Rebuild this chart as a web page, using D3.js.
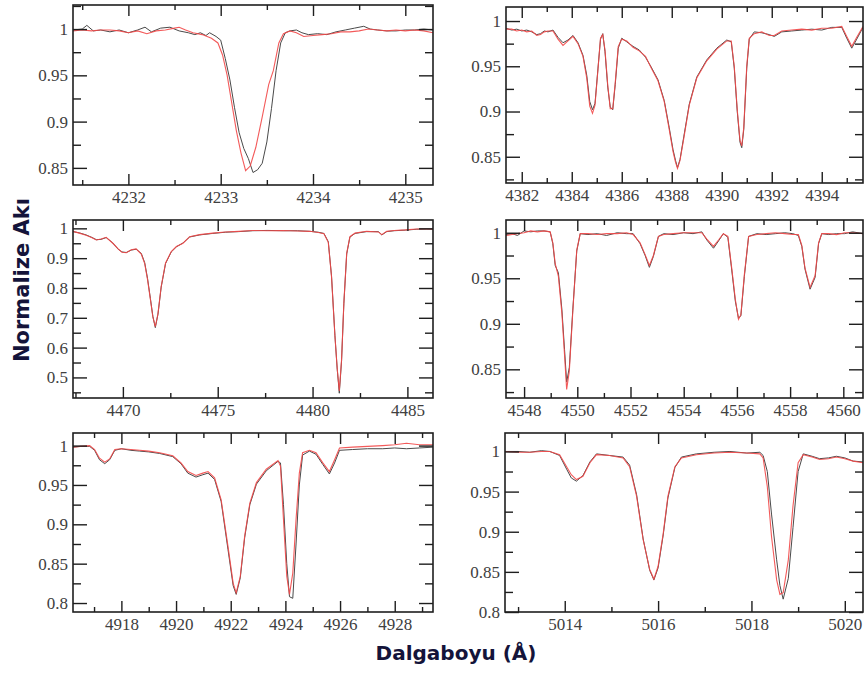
<!DOCTYPE html>
<html>
<head>
<meta charset="utf-8">
<script src="https://cdn.jsdelivr.net/npm/d3@7"></script>
<style>
  body { margin: 0; background: #fff; }
  svg { display: block; }
  .ax text { font-family: "Liberation Serif", "Times New Roman", Times, serif; }
</style>
</head>
<body>
<div id="chart"></div>
<script>
// spectra: wavelength (A) and normalised flux
// black = observed, red = model

// panel 1 : 4231-4235
var w1obs = [4231.40, 4231.50, 4231.55, 4231.62, 4231.70, 4231.80, 4231.90, 4232.00, 4232.10, 4232.18,
  4232.25, 4232.35, 4232.45, 4232.55, 4232.65, 4232.72, 4232.78, 4232.84, 4232.88, 4232.95,
  4233.00, 4233.05, 4233.10, 4233.15, 4233.20, 4233.25, 4233.30, 4233.35, 4233.40, 4233.45,
  4233.50, 4233.55, 4233.60, 4233.65, 4233.70, 4233.75, 4233.82, 4233.88, 4233.95, 4234.05,
  4234.15, 4234.25, 4234.35, 4234.45, 4234.55, 4234.62, 4234.70, 4234.80, 4234.90, 4235.00,
  4235.10, 4235.20, 4235.30];
var obs1 = [0.999, 1.000, 1.004, 0.998, 0.999, 0.997, 0.999, 0.996, 0.999, 1.002,
  0.997, 1.001, 1.002, 0.998, 0.996, 0.994, 0.996, 0.993, 0.996, 0.992,
  0.988, 0.968, 0.945, 0.915, 0.888, 0.871, 0.860, 0.845, 0.848, 0.855,
  0.878, 0.914, 0.955, 0.985, 0.996, 0.998, 0.999, 0.996, 0.994, 0.995,
  0.994, 0.997, 0.999, 1.001, 1.003, 1.000, 0.999, 0.998, 0.998, 0.999,
  0.999, 1.000, 0.999];
var w1fit = [4231.40, 4231.50, 4231.60, 4231.70, 4231.80, 4231.90, 4232.00, 4232.10, 4232.20, 4232.30,
  4232.40, 4232.50, 4232.55, 4232.62, 4232.70, 4232.80, 4232.90, 4232.97, 4233.02, 4233.07,
  4233.12, 4233.17, 4233.22, 4233.27, 4233.32, 4233.38, 4233.45, 4233.52, 4233.57, 4233.63,
  4233.68, 4233.75, 4233.82, 4233.90, 4234.00, 4234.10, 4234.20, 4234.30, 4234.40, 4234.50,
  4234.60, 4234.70, 4234.80, 4234.90, 4235.00, 4235.10, 4235.20, 4235.30];
var fit1 = [0.998, 0.999, 0.998, 0.999, 0.999, 0.998, 0.996, 0.998, 0.995, 0.998,
  0.999, 1.001, 1.002, 0.999, 0.996, 0.994, 0.990, 0.985, 0.972, 0.950,
  0.920, 0.890, 0.866, 0.847, 0.852, 0.872, 0.905, 0.940, 0.955, 0.985,
  0.995, 0.998, 0.996, 0.992, 0.993, 0.994, 0.995, 0.997, 0.997, 0.998,
  1.000, 0.999, 0.998, 0.999, 0.998, 0.999, 0.998, 0.996];

// panel 2 : 4382-4395
var w2 = [4381.37, 4381.6, 4381.8, 4382.0, 4382.2, 4382.4, 4382.6, 4382.75, 4382.9, 4383.05,
  4383.25, 4383.45, 4383.65, 4383.85, 4384.05, 4384.25, 4384.45, 4384.6, 4384.72, 4384.83,
  4384.93, 4385.05, 4385.15, 4385.24, 4385.33, 4385.44, 4385.54, 4385.64, 4385.74, 4385.86,
  4386.0, 4386.2, 4386.45, 4386.7, 4386.95, 4387.2, 4387.45, 4387.7, 4387.9, 4388.05,
  4388.15, 4388.23, 4388.33, 4388.48, 4388.7, 4389.0, 4389.4, 4389.8, 4390.2, 4390.38,
  4390.5, 4390.62, 4390.73, 4390.8, 4390.88, 4391.0, 4391.1, 4391.3, 4391.6, 4391.9,
  4392.1, 4392.4, 4392.8, 4393.2, 4393.6, 4394.0, 4394.4, 4394.8, 4395.0, 4395.2,
  4395.4, 4395.65];
var obs2 = [0.992, 0.990, 0.991, 0.989, 0.990, 0.988, 0.985, 0.986, 0.989, 0.988,
  0.990, 0.982, 0.976, 0.979, 0.984, 0.976, 0.962, 0.940, 0.911, 0.902,
  0.909, 0.948, 0.980, 0.986, 0.966, 0.927, 0.905, 0.902, 0.930, 0.970,
  0.981, 0.977, 0.972, 0.968, 0.960, 0.948, 0.935, 0.912, 0.882, 0.858,
  0.846, 0.838, 0.847, 0.872, 0.908, 0.938, 0.957, 0.970, 0.979, 0.977,
  0.948, 0.900, 0.866, 0.860, 0.880, 0.948, 0.980, 0.988, 0.987, 0.985,
  0.983, 0.988, 0.989, 0.990, 0.991, 0.990, 0.993, 0.993, 0.981, 0.970,
  0.980, 0.993];
var fit2 = [0.991, 0.991, 0.989, 0.990, 0.988, 0.989, 0.984, 0.985, 0.988, 0.989,
  0.989, 0.980, 0.973, 0.978, 0.983, 0.975, 0.961, 0.937, 0.906, 0.898,
  0.907, 0.947, 0.981, 0.985, 0.968, 0.929, 0.903, 0.903, 0.932, 0.972,
  0.980, 0.978, 0.971, 0.967, 0.961, 0.947, 0.934, 0.911, 0.880, 0.856,
  0.844, 0.837, 0.846, 0.870, 0.907, 0.937, 0.956, 0.969, 0.978, 0.978,
  0.950, 0.902, 0.868, 0.862, 0.882, 0.950, 0.981, 0.986, 0.988, 0.984,
  0.984, 0.989, 0.990, 0.991, 0.990, 0.992, 0.992, 0.994, 0.983, 0.972,
  0.982, 0.994];

// panel 3 : 4467-4486
var w3 = [4467.37, 4467.7, 4468.06, 4468.35, 4468.6, 4468.85, 4469.12, 4469.47, 4469.75, 4469.95,
  4470.18, 4470.44, 4470.7, 4470.97, 4471.15, 4471.3, 4471.45, 4471.58, 4471.71, 4471.85,
  4472.02, 4472.25, 4472.55, 4472.82, 4473.17, 4473.52, 4474.05, 4474.74, 4475.4, 4476.1,
  4476.85, 4477.6, 4478.45, 4479.2, 4479.86, 4480.3, 4480.6, 4480.83, 4481.0, 4481.18,
  4481.3, 4481.41, 4481.53, 4481.65, 4481.8, 4481.97, 4482.24, 4482.85, 4483.47, 4483.65,
  4483.91, 4484.3, 4484.9, 4485.5, 4486.0, 4486.35];
var obs3 = [0.989, 0.985, 0.978, 0.970, 0.962, 0.963, 0.969, 0.951, 0.930, 0.921,
  0.919, 0.927, 0.930, 0.916, 0.885, 0.832, 0.765, 0.705, 0.667, 0.712,
  0.803, 0.882, 0.921, 0.938, 0.951, 0.971, 0.978, 0.983, 0.987, 0.989,
  0.992, 0.993, 0.992, 0.992, 0.990, 0.987, 0.983, 0.955, 0.840, 0.640,
  0.528, 0.447, 0.556, 0.747, 0.914, 0.971, 0.983, 0.989, 0.989, 0.978,
  0.989, 0.992, 0.994, 0.997, 0.998, 0.997];
var fit3 = [0.990, 0.984, 0.977, 0.969, 0.961, 0.964, 0.970, 0.950, 0.931, 0.920,
  0.918, 0.928, 0.931, 0.914, 0.882, 0.828, 0.762, 0.703, 0.670, 0.714,
  0.805, 0.884, 0.922, 0.939, 0.950, 0.972, 0.979, 0.984, 0.988, 0.990,
  0.993, 0.992, 0.993, 0.991, 0.990, 0.986, 0.982, 0.953, 0.838, 0.638,
  0.530, 0.455, 0.560, 0.750, 0.916, 0.972, 0.984, 0.990, 0.988, 0.979,
  0.990, 0.993, 0.995, 0.998, 0.998, 0.998];

// panel 4 : 4548-4560
var w4 = [4547.32, 4547.55, 4547.75, 4548.0, 4548.25, 4548.5, 4548.75, 4548.98, 4549.08, 4549.17,
  4549.29, 4549.42, 4549.52, 4549.6, 4549.7, 4549.83, 4549.98, 4550.11, 4550.4, 4550.75,
  4551.1, 4551.5, 4551.85, 4552.1, 4552.36, 4552.55, 4552.71, 4552.86, 4553.05, 4553.25,
  4553.6, 4554.0, 4554.35, 4554.68, 4554.87, 4555.12, 4555.31, 4555.49, 4555.66, 4555.81,
  4555.94, 4556.06, 4556.15, 4556.28, 4556.44, 4556.75, 4557.1, 4557.45, 4557.8, 4558.1,
  4558.31, 4558.44, 4558.56, 4558.75, 4558.94, 4559.07, 4559.19, 4559.45, 4559.75, 4560.05,
  4560.35, 4560.74];
var obs4 = [0.998, 0.999, 0.997, 1.002, 1.001, 1.002, 1.002, 1.001, 0.988, 0.964,
  0.956, 0.916, 0.872, 0.836, 0.852, 0.915, 0.980, 0.999, 0.998, 0.999,
  0.997, 1.000, 0.999, 0.999, 0.988, 0.975, 0.962, 0.974, 0.996, 0.999,
  0.998, 1.000, 0.999, 1.001, 0.992, 0.983, 0.991, 0.999, 0.995, 0.958,
  0.925, 0.906, 0.909, 0.952, 0.996, 0.999, 0.998, 0.999, 1.000, 0.999,
  0.997, 0.985, 0.960, 0.938, 0.951, 0.988, 0.999, 0.998, 0.999, 0.999,
  1.001, 0.999];
var fit4 = [0.997, 0.998, 0.999, 1.000, 1.002, 1.001, 1.002, 1.001, 0.989, 0.966,
  0.952, 0.912, 0.866, 0.828, 0.848, 0.913, 0.981, 0.999, 0.999, 0.998,
  0.999, 0.999, 1.000, 0.998, 0.989, 0.976, 0.964, 0.975, 0.996, 0.998,
  0.999, 1.000, 1.000, 1.000, 0.993, 0.985, 0.992, 0.999, 0.996, 0.960,
  0.927, 0.905, 0.910, 0.954, 0.996, 0.998, 0.999, 1.000, 0.999, 0.998,
  0.998, 0.986, 0.961, 0.940, 0.953, 0.989, 0.999, 0.999, 0.998, 1.000,
  1.000, 0.999];

// panel 5 : 4916-4929
var w5 = [4916.23, 4916.5, 4916.84, 4917.02, 4917.2, 4917.39, 4917.57, 4917.76, 4918.0, 4918.35,
  4918.67, 4919.0, 4919.4, 4919.88, 4920.18, 4920.43, 4920.73, 4920.98, 4921.17, 4921.41,
  4921.65, 4921.9, 4922.09, 4922.2, 4922.35, 4922.51, 4922.7, 4922.94, 4923.3, 4923.73,
  4923.82, 4923.93, 4924.05, 4924.15, 4924.27, 4924.39, 4924.51, 4924.63, 4924.88, 4925.12,
  4925.37, 4925.61, 4925.8, 4925.98, 4926.46, 4927.0, 4927.56, 4928.0, 4928.43, 4928.9,
  4929.4];
var obs5 = [0.998, 0.999, 0.999, 0.994, 0.982, 0.977, 0.982, 0.994, 0.996, 0.994,
  0.993, 0.992, 0.990, 0.986, 0.977, 0.965, 0.960, 0.963, 0.965, 0.957,
  0.929, 0.868, 0.822, 0.811, 0.832, 0.883, 0.925, 0.951, 0.968, 0.980,
  0.978, 0.925, 0.850, 0.808, 0.806, 0.875, 0.950, 0.988, 0.993, 0.989,
  0.976, 0.964, 0.978, 0.994, 0.995, 0.996, 0.996, 0.997, 0.996, 0.997,
  0.998];
var fit5 = [0.998, 0.999, 1.000, 0.995, 0.984, 0.979, 0.983, 0.995, 0.996, 0.995,
  0.994, 0.993, 0.991, 0.987, 0.978, 0.967, 0.962, 0.965, 0.967, 0.959,
  0.931, 0.872, 0.825, 0.813, 0.834, 0.885, 0.927, 0.953, 0.970, 0.981,
  0.974, 0.906, 0.834, 0.811, 0.838, 0.906, 0.965, 0.991, 0.994, 0.991,
  0.978, 0.967, 0.982, 0.997, 0.998, 0.999, 1.000, 1.001, 1.003, 1.001,
  1.001];

// panel 6 : 5013-5020
var w6 = [5012.72, 5013.0, 5013.25, 5013.5, 5013.68, 5013.89, 5014.04, 5014.14, 5014.25, 5014.39,
  5014.54, 5014.68, 5014.96, 5015.25, 5015.39, 5015.54, 5015.68, 5015.82, 5015.91, 5016.0,
  5016.11, 5016.21, 5016.36, 5016.5, 5016.82, 5017.2, 5017.54, 5017.9, 5018.18, 5018.25,
  5018.34, 5018.43, 5018.54, 5018.61, 5018.68, 5018.79, 5018.89, 5019.0, 5019.11, 5019.3,
  5019.46, 5019.65, 5019.82, 5020.0, 5020.18, 5020.39];
var obs6 = [1.000, 1.000, 0.999, 1.001, 1.000, 0.995, 0.978, 0.967, 0.963, 0.970,
  0.987, 0.997, 0.995, 0.993, 0.983, 0.946, 0.891, 0.852, 0.840, 0.855,
  0.896, 0.942, 0.980, 0.993, 0.997, 0.999, 1.000, 0.998, 0.999, 0.995,
  0.975, 0.922, 0.865, 0.833, 0.816, 0.842, 0.905, 0.975, 0.997, 0.994,
  0.991, 0.992, 0.994, 0.992, 0.988, 0.987];
var fit6 = [1.000, 0.999, 0.999, 1.000, 1.000, 0.996, 0.981, 0.971, 0.965, 0.969,
  0.986, 0.996, 0.995, 0.992, 0.981, 0.944, 0.890, 0.853, 0.841, 0.857,
  0.898, 0.944, 0.981, 0.992, 0.996, 0.998, 0.999, 0.998, 0.997, 0.992,
  0.956, 0.894, 0.840, 0.822, 0.824, 0.865, 0.932, 0.986, 0.996, 0.993,
  0.990, 0.991, 0.993, 0.991, 0.988, 0.986];

// axis ranges and tick steps for each panel
var xDomains = [[4231.40, 4235.30], [4381.37, 4395.65], [4467.37, 4486.35],
                [4547.32, 4560.74], [4916.23, 4929.40], [5012.72, 5020.39]];
var yDomains = [[0.8315, 1.026], [0.821, 1.0155], [0.431, 1.028],
                [0.8185, 1.014], [0.7886, 1.016], [0.800, 1.023]];
var xMajor = [1, 2, 5, 2, 2, 2];
var xMinor = [0.5, 1, 2.5, 1, 1, 1];
var yMajor = [0.05, 0.05, 0.1, 0.05, 0.05, 0.05];
var yMinor = [0.025, 0.025, 0.05, 0.025, 0.025, 0.025];

var obsSeries = [[w1obs, obs1], [w2, obs2], [w3, obs3], [w4, obs4], [w5, obs5], [w6, obs6]];
var fitSeries = [[w1fit, fit1], [w2, fit2], [w3, fit3], [w4, fit4], [w5, fit5], [w6, fit6]];

// frame boxes in pixels
var frames = [
  {x: 73, y: 5, w: 360, h: 180},
  {x: 506, y: 7, w: 357, h: 176},
  {x: 73, y: 220, w: 360, h: 178},
  {x: 506, y: 220, w: 357, h: 178},
  {x: 73, y: 433, w: 360, h: 179},
  {x: 505, y: 433, w: 358, h: 179}
];

var width = 864, height = 673;
var serif = "'Liberation Serif', 'Times New Roman', Times, serif";
var svg = d3.select("#chart").append("svg").attr("width", width).attr("height", height);

function stepTicks(dom, step, skip) {
  var out = [];
  var start = Math.ceil(dom[0] / step - 1e-9);
  for (var k = start; k * step <= dom[1] + 1e-9; k++) {
    var v = +(k * step).toFixed(4);
    if (skip && Math.abs(v / skip - Math.round(v / skip)) < 1e-6) continue;
    out.push(v);
  }
  return out;
}

function fmtY(d) { return String(+d.toFixed(3)); }

function drawPanel(i) {
  var f = frames[i];
  var g = svg.append("g").attr("transform", "translate(" + f.x + "," + f.y + ")");
  var x = d3.scaleLinear().domain(xDomains[i]).range([0, f.w]);
  var y = d3.scaleLinear().domain(yDomains[i]).range([f.h, 0]);

  var xMaj = stepTicks(xDomains[i], xMajor[i]);
  var xMin = stepTicks(xDomains[i], xMinor[i], xMajor[i]);
  var yMaj = stepTicks(yDomains[i], yMajor[i]);
  var yMin = stepTicks(yDomains[i], yMinor[i], yMajor[i]);

  g.append("clipPath").attr("id", "clip" + i)
    .append("rect").attr("width", f.w).attr("height", f.h);

  var line = d3.line().x(function (d) { return x(d[0]); }).y(function (d) { return y(d[1]); });
  var obs = d3.zip(obsSeries[i][0], obsSeries[i][1]);
  var fit = d3.zip(fitSeries[i][0], fitSeries[i][1]);

  var plot = g.append("g").attr("clip-path", "url(#clip" + i + ")");
  plot.append("path").datum(obs).attr("d", line)
    .attr("fill", "none").attr("stroke", "#4a4a4a").attr("stroke-width", 1);
  plot.append("path").datum(fit).attr("d", line)
    .attr("fill", "none").attr("stroke", "#f24848").attr("stroke-width", 1.1).attr("stroke-opacity", 0.9);

  // ticks point inwards on all four sides, y ticks a bit longer than x ticks
  g.append("g").attr("class", "ax").attr("transform", "translate(0," + f.h + ")")
    .call(d3.axisBottom(x).tickValues(xMaj).tickSize(-11).tickPadding(6).tickFormat(d3.format("d")));
  g.append("g").attr("class", "ax").attr("transform", "translate(0," + f.h + ")")
    .call(d3.axisBottom(x).tickValues(xMin).tickSize(-5).tickFormat(""));
  g.append("g").attr("class", "ax")
    .call(d3.axisTop(x).tickValues(xMaj).tickSize(-11).tickFormat(""));
  g.append("g").attr("class", "ax")
    .call(d3.axisTop(x).tickValues(xMin).tickSize(-5).tickFormat(""));

  g.append("g").attr("class", "ax")
    .call(d3.axisLeft(y).tickValues(yMaj).tickSize(-14).tickPadding(5).tickFormat(fmtY));
  g.append("g").attr("class", "ax")
    .call(d3.axisLeft(y).tickValues(yMin).tickSize(-8).tickFormat(""));
  g.append("g").attr("class", "ax").attr("transform", "translate(" + f.w + ",0)")
    .call(d3.axisRight(y).tickValues(yMaj).tickSize(-14).tickFormat(""));
  g.append("g").attr("class", "ax").attr("transform", "translate(" + f.w + ",0)")
    .call(d3.axisRight(y).tickValues(yMin).tickSize(-8).tickFormat(""));

  g.append("rect").attr("width", f.w).attr("height", f.h)
    .attr("fill", "none").attr("stroke", "#1e1e1e").attr("stroke-width", 1.6);
}

for (var i = 0; i < 6; i++) drawPanel(i);

svg.selectAll(".ax .domain").remove();
svg.selectAll(".ax").attr("font-family", serif).attr("font-size", 17);
svg.selectAll(".ax line").attr("stroke", "#1e1e1e").attr("stroke-width", 1.4);
svg.selectAll(".ax text").attr("font-family", serif).attr("fill", "#404040");

// axis titles
svg.append("text").text("Normalize Akı")
  .attr("transform", "translate(29,280) rotate(-90)")
  .style("text-anchor", "middle")
  .style("font-family", "'DejaVu Sans', Verdana, sans-serif")
  .style("font-weight", "bold").style("font-size", "21px")
  .attr("fill", "#14143a");
svg.append("text").text("Dalgaboyu (Å)")
  .attr("x", 456).attr("y", 660)
  .style("text-anchor", "middle")
  .style("font-family", "'DejaVu Sans', Verdana, sans-serif")
  .style("font-weight", "bold").style("font-size", "20px")
  .attr("fill", "#14143a");
</script>
</body>
</html>
